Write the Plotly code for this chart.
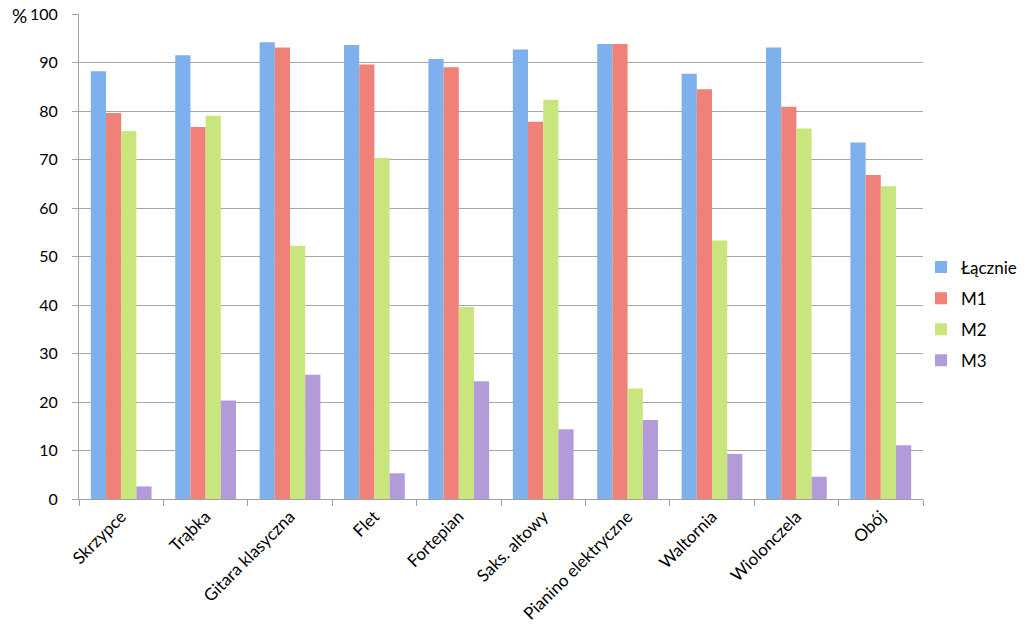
import plotly.graph_objects as go

categories = ["Skrzypce", "Trąbka", "Gitara klasyczna", "Flet", "Fortepian",
              "Saks. altowy", "Pianino elektryczne", "Waltornia", "Wiolonczela", "Obój"]
lacznie = [88.2, 91.5, 94.2, 93.6, 90.7, 92.7, 93.8, 87.7, 93.1, 73.5]
m1 = [79.6, 76.7, 93.1, 89.6, 89.0, 77.8, 93.8, 84.5, 80.9, 66.8]
m2 = [75.9, 79.0, 52.2, 70.3, 39.6, 82.3, 22.8, 53.3, 76.4, 64.5]
m3 = [2.6, 20.3, 25.6, 5.3, 24.3, 14.4, 16.3, 9.3, 4.6, 11.1]
series_names = ["Łącznie", "M1", "M2", "M3"]
series_colors = ["#7db0ec", "#ef8179", "#c9e57e", "#b39bda"]
y_ticks = [0, 10, 20, 30, 40, 50, 60, 70, 80, 90, 100]

font_family = "Lato, Open Sans, sans-serif"

W, H = 1024, 626
fig = go.Figure()
for name, vals, col in zip(series_names, [lacznie, m1, m2, m3], series_colors):
    fig.add_trace(go.Bar(x=categories, y=vals, name=name, legendgroup=name,
                         marker=dict(color=col, line=dict(width=0))))

fig.update_layout(
    width=W, height=H,
    margin=dict(l=79, r=101, t=14, b=127, autoexpand=False),
    barmode="group", bargap=0.28, bargroupgap=0,
    plot_bgcolor="white", paper_bgcolor="white",
    font=dict(family=font_family, size=16, color="#000000"),
    legend=dict(xref="container", yref="container", x=921 / W, y=1 - 314 / H,
                xanchor="left", yanchor="middle",
                font=dict(size=17), itemwidth=30, tracegroupgap=6,
                bgcolor="rgba(0,0,0,0)"),
    showlegend=True,
)
fig.update_xaxes(
    automargin=False,
    showline=True, linecolor="#a0a0a0", linewidth=1,
    ticks="outside", tickson="boundaries", ticklen=6, tickcolor="#a0a0a0",
    tickangle=-45, tickfont=dict(size=17), showgrid=False,
)
fig.update_yaxes(
    automargin=False,
    range=[0, 100], tickvals=y_ticks, showgrid=True, gridcolor="#a6a6a6", gridwidth=1,
    showline=True, linecolor="#a0a0a0", linewidth=1,
    ticks="outside", ticklen=6, tickcolor="#a6a6a6", ticklabelstandoff=11,
    tickfont=dict(size=16), zeroline=False,
)
fig.add_annotation(text="%", xref="paper", yref="paper", x=-69 / 844, y=1 - 2 / 485,
                   xanchor="left", yanchor="middle", showarrow=False,
                   font=dict(size=19, family=font_family))
fig.write_html("out.html", config={"displayModeBar": False},
               post_script="document.body.style.margin='0';")
